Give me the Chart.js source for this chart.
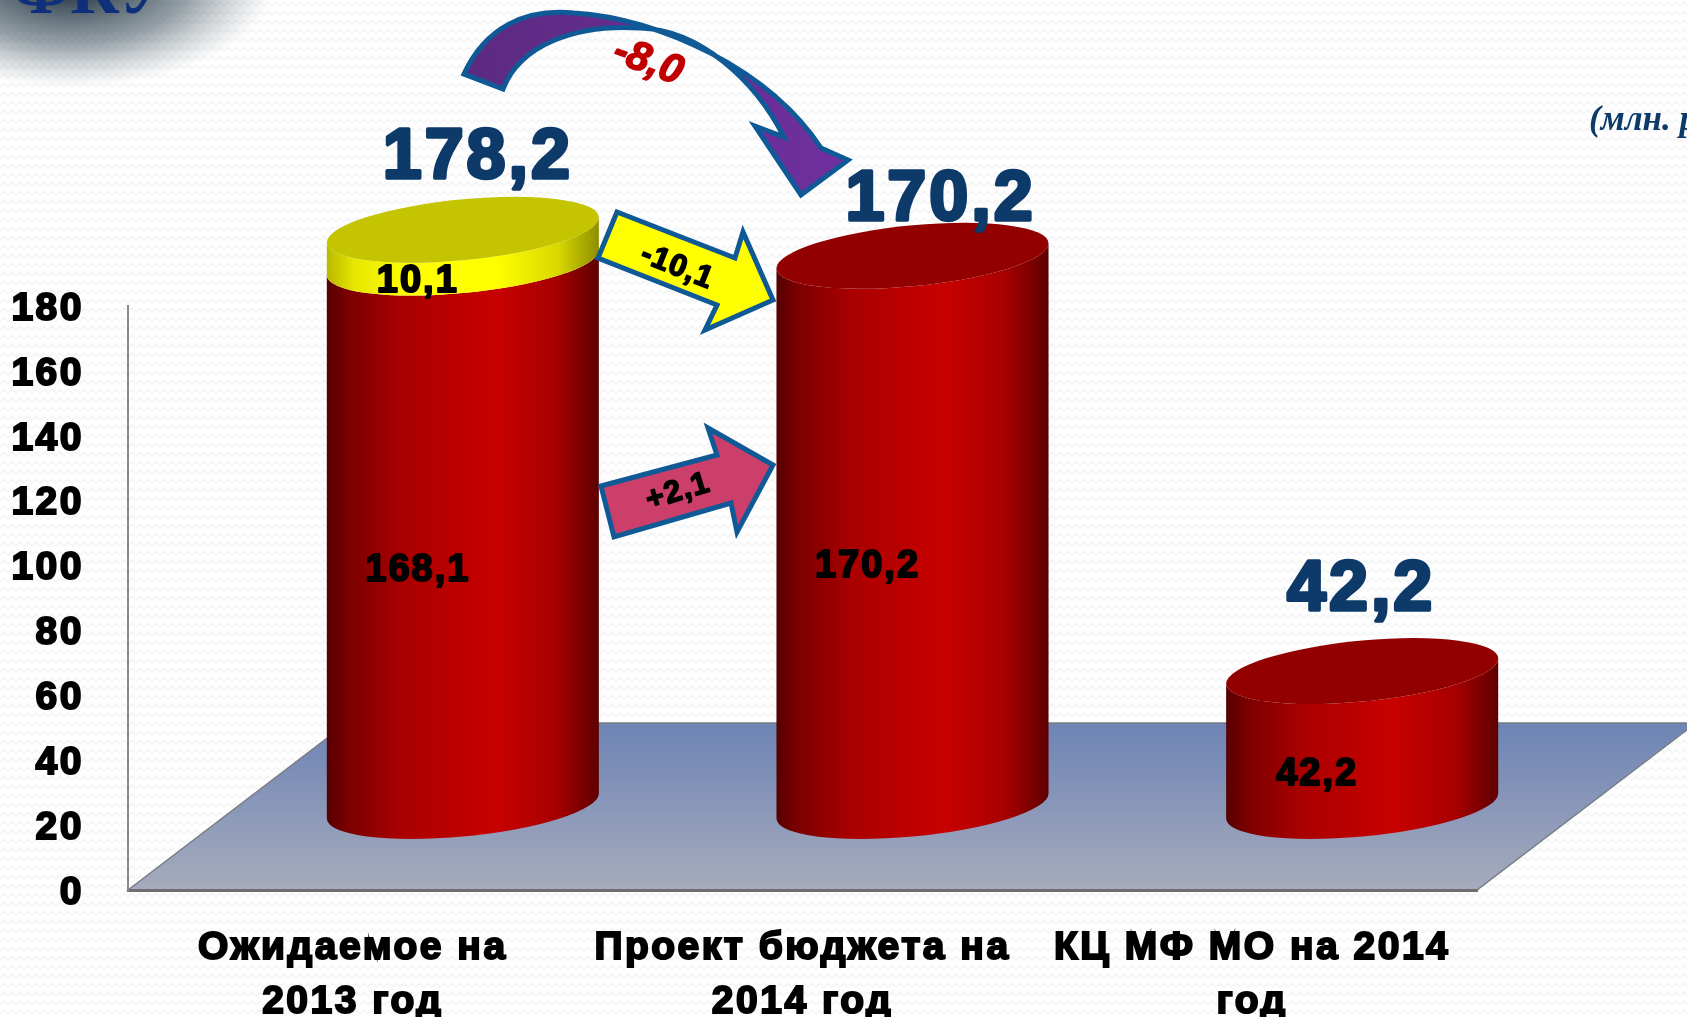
<!DOCTYPE html>
<html lang="ru">
  <head>
    <meta charset="UTF-8" />
    <title>Проект бюджета на 2014 год</title>
    <script src="https://cdnjs.cloudflare.com/ajax/libs/Chart.js/4.4.1/chart.umd.min.js"></script>
    <style>
      html, body { margin: 0; padding: 0; background: #fefefe; overflow: hidden; }
      canvas { display: block; }
    </style>
  </head>
  <body>
    <canvas id="budgetChart" width="1687" height="1017"></canvas>
    <script>
      const categories = [
        ["Ожидаемое на", "2013 год"],
        ["Проект бюджета на", "2014 год"],
        ["КЦ МФ МО на 2014", "год"],
      ];
      const mainValues = [168.1, 170.2, 42.2];
      const extraValues = [10.1, null, null];
      const totals = [178.2, 170.2, 42.2];
      const axisMin = 0;
      const axisMax = 180;
      const axisStep = 20;

      const fmt = (v) => v.toFixed(1).replace(".", ",");
      const FONT = '"Liberation Sans", Arial, sans-serif';
      const NAVY = "#0d3a69";
      const OUTLINE = "#0f5a96";

      // fake 3D: the floor has depth, bars stand in the middle of it
      const DEPTH_X = 219;
      const DEPTH_Y = 167;
      const BAR_SHIFT_X = 110;
      const BAR_SHIFT_Y = 82;
      const SHEAR = 0.092;
      const CAP_B = 30.5;
      const totalOffsets = [[15, -71], [28, -55], [-1, -80]];

      function bgPattern(ctx) {
        const tile = document.createElement("canvas");
        tile.width = 16;
        tile.height = 9;
        const t = tile.getContext("2d");
        t.fillStyle = "#fefefe";
        t.fillRect(0, 0, 16, 9);
        t.strokeStyle = "#f3f4f5";
        t.lineWidth = 1.5;
        t.beginPath();
        t.moveTo(0, 6);
        t.lineTo(4, 2);
        t.lineTo(8, 6);
        t.lineTo(12, 2);
        t.lineTo(16, 6);
        t.stroke();
        return ctx.createPattern(tile, "repeat");
      }

      function poly(ctx, pts, fill, lineW, stroke) {
        ctx.beginPath();
        pts.forEach((p, i) => (i ? ctx.lineTo(p[0], p[1]) : ctx.moveTo(p[0], p[1])));
        ctx.closePath();
        ctx.fillStyle = fill;
        ctx.fill();
        if (lineW) {
          ctx.lineWidth = lineW;
          ctx.strokeStyle = stroke;
          ctx.lineJoin = "miter";
          ctx.stroke();
        }
      }

      function label(ctx, text, x, y, font, color, angle, heavy, spacing) {
        ctx.save();
        ctx.translate(x, y);
        ctx.rotate(((angle || 0) * Math.PI) / 180);
        ctx.font = font;
        ctx.letterSpacing = (spacing || 0) + "px";
        ctx.fillStyle = color;
        ctx.textAlign = "center";
        ctx.textBaseline = "middle";
        if (heavy) {
          ctx.lineWidth = heavy;
          ctx.strokeStyle = color;
          ctx.lineJoin = "round";
          ctx.strokeText(text, 0, 0);
        }
        ctx.fillText(text, 0, 0);
        ctx.restore();
      }

      function sideGradient(ctx, left, right, stops) {
        const g = ctx.createLinearGradient(left, 0, right, 0);
        stops.forEach((s) => g.addColorStop(s[0], s[1]));
        return g;
      }

      const redStops = [[0, "#560000"], [0.08, "#7c0000"], [0.28, "#aa0000"], [0.62, "#c80000"], [0.84, "#a80000"], [1, "#5e0000"]];
      const yellowStops = [[0, "#b8b800"], [0.1, "#e6e600"], [0.3, "#ffff00"], [0.62, "#ffff00"], [0.85, "#d8d800"], [1, "#8e8e00"]];

      // one cylinder segment in sheared space, so the ellipses tilt like the picture
      function cylinder(ctx, cx, r, yBase, yTop, stops, capColor) {
        ctx.save();
        ctx.transform(1, -SHEAR, 0, 1, cx, 0);
        ctx.beginPath();
        ctx.moveTo(-r, yTop);
        ctx.lineTo(-r, yBase);
        ctx.ellipse(0, yBase, r, CAP_B, 0, Math.PI, 0, true);
        ctx.lineTo(r, yTop);
        ctx.ellipse(0, yTop, r, CAP_B, 0, 0, Math.PI, false);
        ctx.closePath();
        ctx.fillStyle = sideGradient(ctx, -r, r, stops);
        ctx.fill();
        if (capColor) {
          ctx.beginPath();
          ctx.ellipse(0, yTop, r, CAP_B, 0, 0, Math.PI * 2);
          ctx.fillStyle = capColor;
          ctx.fill();
        }
        ctx.restore();
      }

      const sceneryPlugin = {
        id: "scenery",
        beforeDraw(chart) {
          const { ctx, chartArea: a, width, height } = chart;
          ctx.save();
          ctx.fillStyle = bgPattern(ctx);
          ctx.fillRect(0, 0, width, height);

          // dark smudge of the logo in the corner
          ctx.save();
          ctx.translate(70, -20);
          ctx.scale(1, 0.52);
          const smudge = ctx.createRadialGradient(0, 0, 40, 0, 0, 205);
          smudge.addColorStop(0, "rgba(50,66,78,0.95)");
          smudge.addColorStop(0.5, "rgba(80,98,108,0.6)");
          smudge.addColorStop(1, "rgba(130,140,150,0)");
          ctx.fillStyle = smudge;
          ctx.fillRect(-210, -100, 420, 400);
          ctx.restore();
          ctx.font = 'bold 68px "Liberation Serif", serif';
          ctx.fillStyle = "#0f2f7a";
          ctx.textAlign = "left";
          ctx.textBaseline = "alphabetic";
          ctx.fillText("ФКУ", 12, 13);

          // floor
          const floor = ctx.createLinearGradient(0, a.bottom - DEPTH_Y, 0, a.bottom);
          floor.addColorStop(0, "#6d84b5");
          floor.addColorStop(1, "#a6abbc");
          poly(ctx, [
            [a.left, a.bottom],
            [a.left + DEPTH_X, a.bottom - DEPTH_Y],
            [a.right + DEPTH_X, a.bottom - DEPTH_Y],
            [a.right, a.bottom],
          ], floor, 1.5, "#777c85");
          ctx.restore();
          // tick labels in the slide are wider than the font
          ctx.letterSpacing = "2.5px";
        },
        beforeDatasetsDraw(chart) {
          chart.ctx.letterSpacing = "0px";
        },
        afterDatasetsDraw(chart) {
          const { ctx } = chart;
          const main = chart.getDatasetMeta(0).data;
          const extra = chart.getDatasetMeta(1).data;
          ctx.save();

          main.forEach((bar, i) => {
            const cx = bar.x + BAR_SHIFT_X;
            const r = bar.width / 2;
            const base = bar.base - BAR_SHIFT_Y - 2;
            const top = bar.y - BAR_SHIFT_Y;
            const hasExtra = extraValues[i] !== null;
            cylinder(ctx, cx, r, base, top, redStops, hasExtra ? null : "#920000");
            if (hasExtra) {
              cylinder(ctx, cx, r, top, extra[i].y - BAR_SHIFT_Y, yellowStops, "#c4c400");
            }
          });

          // inner value labels
          const innerFont = "bold 38px " + FONT;
          main.forEach((bar, i) => {
            const cx = bar.x + BAR_SHIFT_X - 45;
            const mid = (bar.base + bar.y) / 2 - BAR_SHIFT_Y + 35;
            label(ctx, fmt(mainValues[i]), cx, mid, innerFont, "#000", 0, 2, 2);
            if (extraValues[i] !== null) {
              const midE = (bar.y + extra[i].y) / 2 - BAR_SHIFT_Y + 35;
              label(ctx, fmt(extraValues[i]), cx, midE, innerFont, "#000", 0, 2, 2);
            }
          });

          // totals over the bars
          main.forEach((bar, i) => {
            const top = extraValues[i] !== null ? extra[i].y : bar.y;
            label(ctx, fmt(totals[i]),
              bar.x + BAR_SHIFT_X + totalOffsets[i][0],
              top - BAR_SHIFT_Y + totalOffsets[i][1],
              "bold 70px " + FONT, NAVY, 0, 3.5, 3);
          });

          // change arrows
          poly(ctx, [[617, 212], [735, 258], [743, 232], [773, 300], [705, 330], [717, 305], [598, 258]], "#ffff00", 5, OUTLINE);
          label(ctx, "-10,1", 677, 267, "bold 31px " + FONT, "#000", 22, 1.5, 1);
          poly(ctx, [[601, 486], [717, 455], [708, 428], [773, 465], [737, 532], [731, 503], [614, 537]], "#cc3f6b", 5, OUTLINE);
          label(ctx, "+2,1", 678, 492, "bold 31px " + FONT, "#000", -17, 1.5, 1);

          // curved arrow
          ctx.beginPath();
          ctx.moveTo(464, 74);
          ctx.bezierCurveTo(485, 28, 525, 8, 574, 13);
          ctx.bezierCurveTo(660, 18, 770, 70, 821, 148);
          ctx.lineTo(848, 160);
          ctx.lineTo(801, 195);
          ctx.lineTo(755, 126);
          ctx.lineTo(784, 137);
          ctx.bezierCurveTo(755, 80, 700, 30, 640, 28);
          ctx.bezierCurveTo(575, 24, 520, 45, 503, 89);
          ctx.closePath();
          const purple = ctx.createLinearGradient(460, 0, 850, 0);
          purple.addColorStop(0, "#5c2a80");
          purple.addColorStop(1, "#7030a0");
          ctx.fillStyle = purple;
          ctx.fill();
          ctx.lineWidth = 5;
          ctx.strokeStyle = OUTLINE;
          ctx.lineJoin = "miter";
          ctx.stroke();
          label(ctx, "-8,0", 648, 62, "italic bold 41px " + FONT, "#c00000", 20, 1.5, 0);

          // unit note, cut by the right edge as in the slide
          ctx.font = 'italic bold 35px "Liberation Serif", serif';
          ctx.fillStyle = NAVY;
          ctx.textAlign = "left";
          ctx.textBaseline = "middle";
          ctx.fillText("(млн. руб.)", 1589, 121);
          ctx.restore();
        },
      };

      new Chart(document.getElementById("budgetChart"), {
        type: "bar",
        data: {
          labels: categories,
          datasets: [
            { label: "Основная часть", data: mainValues, backgroundColor: "transparent", barPercentage: 0.605, categoryPercentage: 1 },
            { label: "Дополнительно", data: extraValues, backgroundColor: "transparent", barPercentage: 0.605, categoryPercentage: 1 },
          ],
        },
        options: {
          responsive: false,
          animation: false,
          layout: { padding: { top: 306, right: 210, left: 0, bottom: 0 } },
          plugins: { legend: { display: false }, tooltip: { enabled: false } },
          scales: {
            x: {
              stacked: true,
              grid: { display: false },
              border: { color: "#6f6f6f", width: 3 },
              afterFit: (s) => { s.height = 127; },
              ticks: {
                color: "#000",
                maxRotation: 0,
                autoSkip: false,
                padding: 23,
                textStrokeColor: "#000",
                textStrokeWidth: 2,
                font: { family: FONT, size: 39, weight: "bold", lineHeight: 1.39 },
              },
            },
            y: {
              stacked: true,
              min: axisMin,
              max: axisMax,
              grid: { display: false },
              border: { color: "#8a8a8a", width: 2 },
              afterFit: (s) => { s.width = 128; },
              ticks: {
                stepSize: axisStep,
                color: "#000",
                padding: 36,
                labelOffset: 3,
                textStrokeColor: "#000",
                textStrokeWidth: 2,
                font: { family: FONT, size: 39, weight: "bold" },
              },
            },
          },
        },
        plugins: [sceneryPlugin],
      });
    </script>
  </body>
</html>
